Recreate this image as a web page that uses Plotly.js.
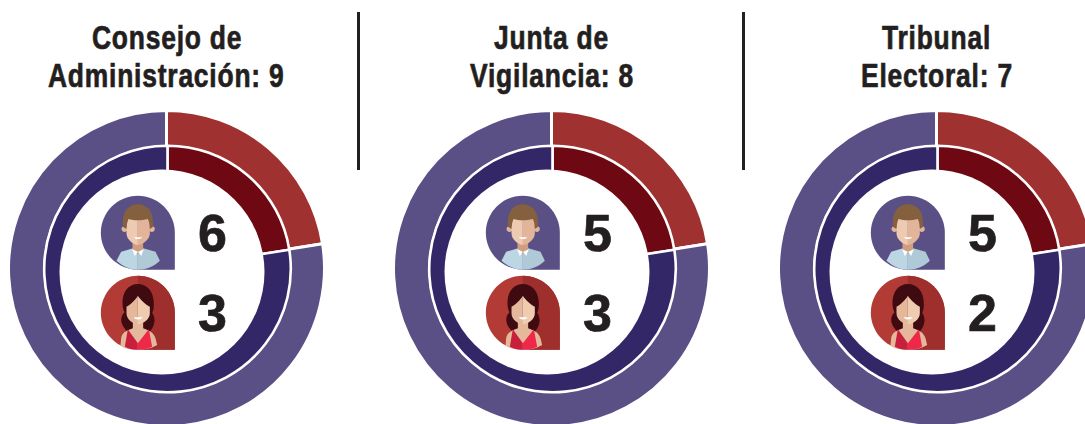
<!DOCTYPE html>
<html>
<head>
<meta charset="utf-8">
<script src="https://cdn.plot.ly/plotly-3.0.1.min.js"></script>
<style>
html,body{margin:0;padding:0;background:#fff;width:1085px;height:424px;overflow:hidden}
#chart{width:1100px;height:440px}
.annotation-text[style*="font-size: 33px"]{
  letter-spacing:1px;
  transform-box:fill-box;transform-origin:center;transform:scaleX(0.8);
  stroke:#231f20;stroke-width:0.7px;
}
.annotation-text[style*="font-size: 52px"]{
  stroke:#231f20;stroke-width:0.7px;
}
</style>
</head>
<body>
<div id="chart"></div>
<script>
// ---- data ----
var panelTitlesLine1 = ['Consejo de', 'Junta de', 'Tribunal'];
var panelTitlesLine2 = ['Administración: 9', 'Vigilancia: 8', 'Electoral: 7'];
var menCounts = [6, 5, 5];
var womenCounts = [3, 3, 2];
var ringLabels = ['Mujeres', 'Hombres'];
var ringShares = [22.5, 77.5];

// ---- layout helpers ----
var W = 1100, H = 440;
var centersX = [166.5, 551.5, 936.5];
var textColor = '#231f20';
var px = function (x) { return x / W; };
var py = function (y) { return 1 - y / H; };

function pieTrace(cx, cy, r, colors, hole, lineWidth) {
  return {
    type: 'pie', values: ringShares, labels: ringLabels, sort: false,
    direction: 'clockwise', rotation: 0, hole: hole, textinfo: 'none', hoverinfo: 'label',
    marker: {colors: colors, line: {color: '#ffffff', width: lineWidth}},
    domain: {x: [px(cx - r), px(cx + r)], y: [py(cy + r), py(cy - r)]}
  };
}

// Icon outlines in a local 3x grid; converted to paper fractions
function iconPath(d, ox, oy) {
  var isX = true;
  return d.replace(/-?\d+(\.\d+)?/g, function (n) {
    var v = Number(n) / 3;
    var out = isX ? px(ox + v) : py(oy + v);
    isX = !isX;
    return out.toFixed(5);
  });
}
function iconShape(d, fill, ox, oy) {
  return {type: 'path', xref: 'paper', yref: 'paper', layer: 'above',
          path: iconPath(d, ox, oy), fillcolor: fill, line: {width: 0}};
}
function circlePath(cx, cy, r) {
  var k = 0.5523 * r;
  return 'M' + (cx - r) + ',' + cy +
    'C' + (cx - r) + ',' + (cy - k) + ' ' + (cx - k) + ',' + (cy - r) + ' ' + cx + ',' + (cy - r) +
    'C' + (cx + k) + ',' + (cy - r) + ' ' + (cx + r) + ',' + (cy - k) + ' ' + (cx + r) + ',' + cy +
    'C' + (cx + r) + ',' + (cy + k) + ' ' + (cx + k) + ',' + (cy + r) + ' ' + cx + ',' + (cy + r) +
    'C' + (cx - k) + ',' + (cy + r) + ' ' + (cx - r) + ',' + (cy + k) + ' ' + (cx - r) + ',' + cy + 'Z';
}

var PIN = 'M1,113 C1,52 51,2 112,2 C173,2 223,52 223,113 L223,224 L112,224 C51,224 1,174 1,113 Z';
var PIN_RIGHT = 'M112,2 C173,2 223,52 223,113 L223,224 L112,224 Z';

function manIcon(ox, oy) {
  var parts = [
    [PIN, '#5a5086'],
    ['M62,170 L98,160 L112,166 L112,224 C90,224 68,215 48,197 Z', '#bcd7e3'],
    ['M112,166 L128,160 L165,170 L178,197 C160,215 135,224 112,224 Z', '#afcad6'],
    ['M96,128 L96,162 L112,176 L128,162 L128,128 Z', '#cf9d80'],
    ['M95,163 L112,170 L103,183 Z', '#ffffff'],
    ['M130,163 L113,170 L122,183 Z', '#ffffff'],
    [circlePath(72, 102, 9), '#e2b59a'],
    [circlePath(154, 102, 9), '#e2b59a'],
    ['M78,60 L78,115 C78,135 100,150 112,150 L112,60 Z', '#eecbb0'],
    ['M148,60 L148,115 C148,135 125,150 112,150 L112,60 Z', '#e2b59a'],
    ['M68,96 C62,50 85,28 112,28 C140,28 162,50 157,96 L148,102 C148,92 147,82 142,72 C120,78 98,76 84,72 C80,82 78,92 78,102 Z', '#85603f'],
    ['M100,127 L125,127 C122,134 104,134 100,127 Z', '#ffffff']
  ];
  return parts.map(function (p) { return iconShape(p[0], p[1], ox, oy); });
}

function womanIcon(ox, oy) {
  var parts = [
    [PIN, '#b23b36'],
    [PIN_RIGHT, '#9f2f2c'],
    ['M112,27 C85,27 65,50 66,85 C66,100 70,108 72,112 C58,125 60,145 72,160 L85,178 L140,178 C160,160 170,135 155,113 C160,105 160,95 160,85 C160,50 140,27 112,27 Z', '#3f0b10'],
    ['M62,190 C64,175 75,168 97,160 L97,130 L128,130 L128,160 C150,168 160,175 165,190 L170,210 C150,222 130,224 112,224 C90,224 75,222 60,212 Z', '#e5b89c'],
    ['M82,163 L112,205 L112,224 C95,224 82,220 73,215 Z', '#c81f3d'],
    ['M145,163 L112,205 L112,224 C130,224 145,220 155,215 Z', '#ee2849'],
    ['M78,95 C88,90 105,75 112,62 L112,148 C100,148 78,135 78,115 Z', '#e5b89c'],
    ['M148,95 C138,90 120,75 112,62 L112,148 C125,148 148,135 148,115 Z', '#efcbb0'],
    ['M100,127 L126,127 C122,136 104,136 100,127 Z', '#ffffff']
  ];
  return parts.map(function (p) { return iconShape(p[0], p[1], ox, oy); });
}

var traces = [], shapes = [], annotations = [];

centersX.forEach(function (cx, i) {
  // outer ring
  traces.push(pieTrace(cx, 268.5, 158, ['#9f3230', '#5a5086'], 0.77, 3));
  // inner ring (hole painted as an offset circle, as in the reference)
  traces.push(pieTrace(cx + 1, 269, 123.3, ['#6e0812', '#342768'], 0, 2.6));
  shapes.push({type: 'circle', xref: 'paper', yref: 'paper', layer: 'above',
    x0: px(cx - 4.5 - 102.5), x1: px(cx - 4.5 + 102.5),
    y0: py(272 + 102.5), y1: py(272 - 102.5),
    fillcolor: '#ffffff', line: {width: 0}});

  var ox = cx - 66;
  shapes = shapes.concat(manIcon(ox, 195), womanIcon(ox, 275));

  annotations.push(
    {text: panelTitlesLine1[i], x: px(cx), y: py(37), xref: 'paper', yref: 'paper',
     xanchor: 'center', yanchor: 'middle', showarrow: false,
     font: {family: '"Liberation Sans",Arial,sans-serif', size: 33, color: textColor, weight: 700}},
    {text: panelTitlesLine2[i], x: px(cx), y: py(75), xref: 'paper', yref: 'paper',
     xanchor: 'center', yanchor: 'middle', showarrow: false,
     font: {family: '"Liberation Sans",Arial,sans-serif', size: 33, color: textColor, weight: 700}},
    {text: String(menCounts[i]), x: px(cx + 45.5), y: py(233), xref: 'paper', yref: 'paper',
     xanchor: 'center', yanchor: 'middle', showarrow: false,
     font: {family: '"Liberation Sans",Arial,sans-serif', size: 52, color: textColor, weight: 700}},
    {text: String(womenCounts[i]), x: px(cx + 45.5), y: py(313), xref: 'paper', yref: 'paper',
     xanchor: 'center', yanchor: 'middle', showarrow: false,
     font: {family: '"Liberation Sans",Arial,sans-serif', size: 52, color: textColor, weight: 700}}
  );
});

[358.5, 743.5].forEach(function (x) {
  shapes.push({type: 'line', xref: 'paper', yref: 'paper', layer: 'above',
    x0: px(x), x1: px(x), y0: py(12), y1: py(170),
    line: {color: textColor, width: 3}});
});

Plotly.newPlot('chart', traces, {
  width: W, height: H, margin: {l: 0, r: 0, t: 0, b: 0},
  paper_bgcolor: '#ffffff', plot_bgcolor: '#ffffff', showlegend: false,
  shapes: shapes, annotations: annotations
}, {displayModeBar: false, staticPlot: true});
</script>
</body>
</html>
